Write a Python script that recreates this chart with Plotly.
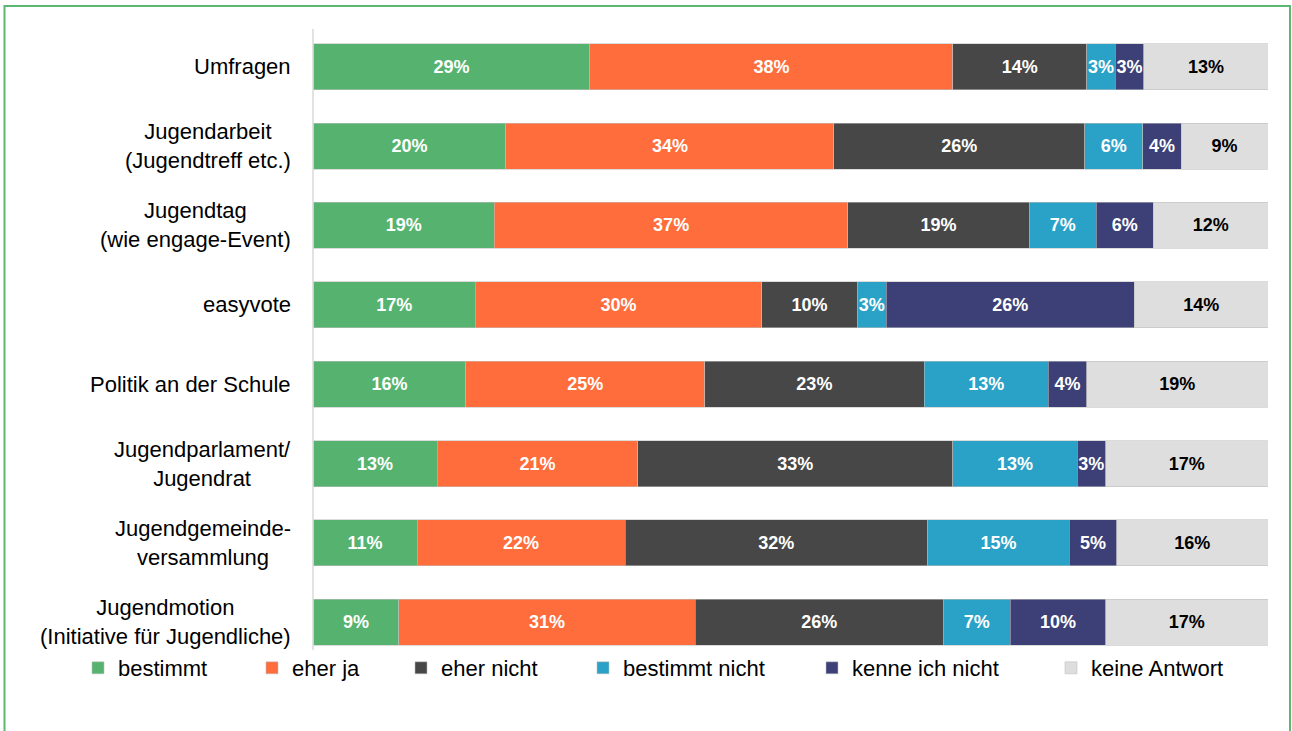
import plotly.graph_objects as go

categories = [
    "Umfragen",
    "Jugendarbeit<br>(Jugendtreff etc.)",
    "Jugendtag<br>(wie engage-Event)",
    "easyvote",
    "Politik an der Schule",
    "Jugendparlament/<br>Jugendrat",
    "Jugendgemeinde-<br>versammlung",
    "Jugendmotion<br>(Initiative für Jugendliche)",
]
series_names = ["bestimmt", "eher ja", "eher nicht", "bestimmt nicht", "kenne ich nicht", "keine Antwort"]
bestimmt = [29, 20, 19, 17, 16, 13, 11, 9]
eher_ja = [38, 34, 37, 30, 25, 21, 22, 31]
eher_nicht = [14, 26, 19, 10, 23, 33, 32, 26]
bestimmt_nicht = [3, 6, 7, 3, 13, 13, 15, 7]
kenne_nicht = [3, 4, 6, 26, 4, 3, 5, 10]
keine_antwort = [13, 9, 12, 14, 19, 17, 16, 17]

series_values = [bestimmt, eher_ja, eher_nicht, bestimmt_nicht, kenne_nicht, keine_antwort]
colors = ["#55B36F", "#FE6D3B", "#474747", "#2AA1C6", "#3D3F77", "#DEDEDE"]
text_colors = ["white", "white", "white", "white", "white", "black"]
legend_text_px = [117, 291, 440, 622, 851, 1090]

FONT = "Liberation Sans, Arial, sans-serif"

W, H = 1292, 731
ml, mr, mt, mb = 313, 24, 27, 69
pw = W - ml - mr
ph = H - mt - mb


def px_x(x):
    return (x - ml) / pw


def px_y(y):
    return (H - mb - y) / ph


fig = go.Figure()
legend_layouts = {}
for k, (name, vals, col, tcol) in enumerate(zip(series_names, series_values, colors, text_colors)):
    lname = "legend" if k == 0 else f"legend{k + 1}"
    fig.add_trace(go.Bar(
        y=list(range(len(categories))),
        x=vals,
        name=name,
        orientation="h",
        legend=lname,
        showlegend=True,
        marker=dict(color=col, line=dict(color="rgba(190,190,190,0.7)", width=0.8)),
        text=[f"{v}%" for v in vals],
        textposition="inside",
        insidetextanchor="middle",
        textangle=0,
        textfont=dict(family=FONT, size=18, color=tcol, weight="bold"),
        hoverinfo="skip",
    ))
    legend_layouts[lname] = dict(
        orientation="h", x=px_x(legend_text_px[k] - 39), xanchor="left",
        y=px_y(668), yanchor="middle",
        font=dict(family=FONT, size=22, color="black"),
        itemclick=False, itemdoubleclick=False, bgcolor="rgba(0,0,0,0)",
    )

annotations = []
for i, cat in enumerate(categories):
    annotations.append(dict(
        x=px_x(293), xref="paper", y=i, yref="y",
        text=cat, showarrow=False, xanchor="right", yanchor="middle",
        align="center", font=dict(family=FONT, size=22, color="black"),
    ))

shapes = [
    dict(type="line", xref="paper", yref="paper", x0=0, x1=0,
         y0=px_y(650), y1=px_y(29), line=dict(color="#D9D9D9", width=1.5)),
    dict(type="rect", xref="paper", yref="paper",
         x0=px_x(4.5), x1=px_x(1290), y0=px_y(745), y1=px_y(6),
         line=dict(color="#5CB870", width=2), fillcolor="rgba(0,0,0,0)"),
]

fig.update_layout(
    width=W, height=H,
    margin=dict(l=ml, r=mr, t=mt, b=mb),
    barmode="stack",
    barnorm="percent",
    bargap=0.42,
    showlegend=True,
    plot_bgcolor="white",
    paper_bgcolor="white",
    font=dict(family=FONT, size=22, color="black"),
    uniformtext=dict(minsize=18, mode="show"),
    xaxis=dict(range=[0, 100], visible=False, fixedrange=True),
    yaxis=dict(range=[len(categories) - 0.5, -0.5], showticklabels=False,
               showgrid=False, zeroline=False, showline=False, fixedrange=True),
    annotations=annotations,
    shapes=shapes,
    **legend_layouts,
)

fig.write_html(
    "out.html",
    config={"displayModeBar": False},
    post_script="document.body.style.margin='0';document.body.style.overflow='hidden';",
)
